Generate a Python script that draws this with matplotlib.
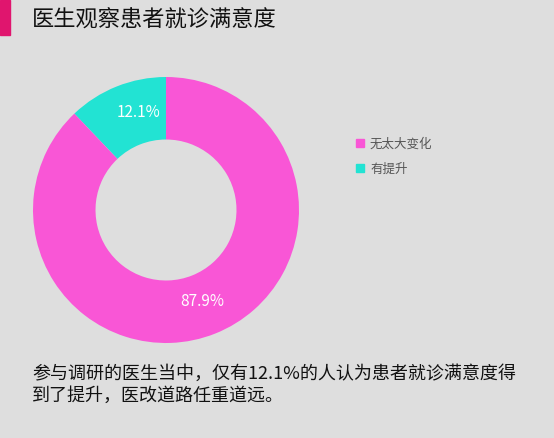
import matplotlib.pyplot as plt
from matplotlib.patches import Rectangle, Patch

plt.rcParams['font.family'] = ['Noto Sans CJK SC', 'DejaVu Sans']

labels = ['有提升', '无太大变化']
values = [12.1, 87.9]
colors = ['#22e3d3', '#f956d6']
legend_order = ['无太大变化', '有提升']

fig = plt.figure(figsize=(5.54, 4.38), dpi=100, facecolor='#dedede')
fig.patches.append(Rectangle((0, 1 - 35 / 438), 10 / 554, 35 / 438, transform=fig.transFigure,
                             color='#e0156e'))
fig.text(32 / 554, 1 - 20 / 438, '医生观察患者就诊满意度', fontsize=16, va='center', color='#111111')

# donut: center (166,210), outer r 133
r = 133
ax = fig.add_axes([(166 - r) / 554, 1 - (210 + r) / 438, 2 * r / 554, 2 * r / 438])
ax.set_facecolor('none')
wedges, _ = ax.pie(values, colors=colors, startangle=90, counterclock=True,
                   wedgeprops=dict(width=0.47, edgecolor='none'))
ax.set_aspect('auto')
ax.set_xlim(-1, 1)
ax.set_ylim(-1, 1)
ax.text(-0.21, 0.73, '12.1%', color='white', fontsize=11, ha='center', va='center')
ax.text(0.27, -0.69, '87.9%', color='white', fontsize=11, ha='center', va='center')

handles = [Patch(color=colors[labels.index(l)]) for l in legend_order]
fig.legend(handles, legend_order, loc='upper left', bbox_to_anchor=(345 / 554, 1 - 126 / 438),
           frameon=False, handlelength=0.6, handleheight=0.6, fontsize=9,
           labelcolor='#555555', labelspacing=1.0, handletextpad=0.5)

fig.text(32 / 554, 1 - 385 / 438, '参与调研的医生当中，仅有12.1%的人认为患者就诊满意度得\n到了提升，医改道路任重道远。',
         fontsize=13, va='center', color='#111111', linespacing=1.25)

fig.savefig('out.png', dpi=100, facecolor=fig.get_facecolor())
